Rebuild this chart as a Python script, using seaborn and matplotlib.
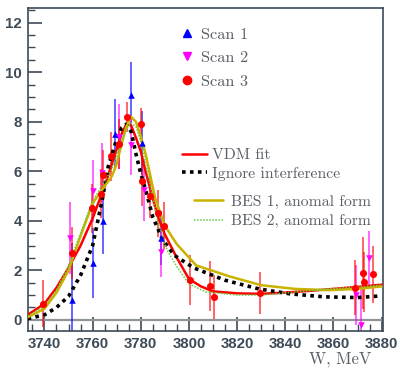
import numpy as np
import pandas as pd
import matplotlib
matplotlib.use("Agg")
import matplotlib.pyplot as plt
from matplotlib.lines import Line2D
from matplotlib.ticker import MultipleLocator
import seaborn as sns

# ---------------- data ----------------
scan1_W = [3751.3, 3760.0, 3764.3, 3769.4, 3775.9, 3780.4, 3788.2]
scan1_v = [0.8, 2.3, 4.0, 7.5, 9.1, 7.15, 3.3]
scan1_e = [2.3, 1.4, 1.35, 1.4, 1.3, 1.3, 1.1]

scan2_W = [3750.6, 3760.0, 3764.0, 3771.0, 3775.9, 3781.2, 3788.2, 3869.5, 3871.3, 3874.7]
scan2_v = [3.3, 5.2, 5.95, 7.4, 7.05, 5.25, 2.75, 1.0, -0.2, 2.5]
scan2_e = [1.45, 1.25, 1.2, 1.3, 1.2, 1.25, 1.0, 1.2, 1.5, 1.1]

scan3_W = [3739.6, 3751.3, 3759.6, 3763.3, 3764.5, 3767.8, 3771.0, 3774.3, 3780.0, 3780.4,
           3784.0, 3787.0, 3789.7, 3800.5, 3808.7, 3810.3, 3829.5, 3869.0, 3872.2, 3872.7, 3876.3]
scan3_v = [0.65, 2.7, 4.5, 5.1, 5.85, 6.6, 7.1, 8.2, 7.9, 5.6,
           5.0, 4.3, 3.8, 1.6, 1.37, 0.93, 1.08, 1.3, 1.9, 1.53, 1.85]
scan3_e = [0.95, 1.05, 1.0, 1.0, 1.0, 1.0, 1.0, 0.6, 0.65, 1.0,
           0.9, 0.95, 0.95, 1.0, 1.0, 0.9, 0.85, 1.1, 1.45, 1.2, 1.15]

vdm_W = [3733, 3740, 3745, 3750, 3755, 3760, 3765, 3768, 3770, 3772, 3774, 3776, 3778, 3780,
         3782, 3784, 3787, 3790, 3795, 3800, 3805, 3810, 3820, 3830, 3840, 3850, 3860, 3870, 3880]
vdm_v = [0.2, 0.65, 1.3, 2.1, 3.0, 4.1, 5.4, 6.3, 6.9, 7.5, 7.9, 7.85, 7.35, 6.8,
         6.0, 5.25, 4.2, 3.45, 2.5, 1.65, 1.35, 1.15, 1.07, 1.05, 1.1, 1.17, 1.25, 1.33, 1.42]

ign_W = [3733, 3740, 3745, 3750, 3755, 3760, 3764, 3766.5, 3770, 3772, 3774, 3776, 3778, 3780,
         3782, 3785, 3789, 3794, 3802, 3815, 3829, 3842, 3856, 3870, 3880]
ign_v = [0.05, 0.2, 0.5, 0.95, 1.8, 3.0, 4.85, 6.2, 7.3, 7.75, 7.9, 7.6, 6.7, 5.9,
         5.25, 4.15, 3.25, 2.6, 2.1, 1.6, 1.25, 1.05, 0.93, 0.9, 0.97]

bes1_W = [3733, 3740, 3745, 3750, 3755, 3760, 3765, 3768, 3770, 3772, 3774, 3776, 3778, 3780,
          3782, 3784, 3786, 3790, 3795, 3803, 3817, 3830, 3844, 3858, 3870, 3880]
bes1_v = [0.1, 0.45, 1.1, 2.0, 3.4, 4.7, 5.4, 5.8, 6.3, 7.1, 7.8, 8.2, 8.0, 7.4,
          6.7, 5.8, 4.9, 3.8, 3.05, 2.2, 1.75, 1.4, 1.25, 1.2, 1.25, 1.35]

bes2_W = [3733, 3740, 3745, 3750, 3755, 3760, 3765, 3768, 3770, 3772, 3774, 3776, 3778, 3780,
          3782, 3784, 3787, 3791, 3795, 3800, 3807, 3820, 3830, 3844, 3858, 3870, 3880]
bes2_v = [0.15, 0.55, 1.2, 2.2, 3.5, 4.8, 5.6, 6.1, 6.6, 7.2, 7.7, 7.95, 7.8, 7.2,
          6.3, 5.4, 4.0, 2.8, 2.15, 1.45, 1.13, 1.0, 1.0, 1.12, 1.25, 1.33, 1.4]

scan_labels = ["Scan 1", "Scan 2", "Scan 3"]
curve_labels = ["VDM fit", "Ignore interference", "BES 1, anomal form", "BES 2, anomal form"]
x_ticks = [3740, 3760, 3780, 3800, 3820, 3840, 3860, 3880]
y_ticks = [0, 2, 4, 6, 8, 10, 12]

# ---------------- style ----------------
sns.set_style("ticks")
plt.rcParams["font.family"] = ["Liberation Sans", "DejaVu Sans"]

FRAME = "#3d4a57"
TXT = "#5a5f66"
SERIF = ["cmr10", "DejaVu Serif"]

fig = plt.figure(figsize=(4.0, 3.74), dpi=100)
ax = fig.add_axes([0.069, 0.115, 0.888, 0.864])

ax.axhline(0, color="#8f9499", lw=1.6, zorder=1)

# curves
curves = [
    (vdm_W, vdm_v, "#ff0000", "-", 1.8),
    (ign_W, ign_v, "#000000", (0, (1, 1.2)), 2.6),
    (bes1_W, bes1_v, "#c9b200", "-", 1.8),
    (bes2_W, bes2_v, "#66cc44", (0, (1, 1)), 1.1),
]
for (w, v, c, ls, lw), lab in zip(curves, curve_labels):
    df = pd.DataFrame({"W": w, "v": v})
    sns.lineplot(data=df, x="W", y="v", color=c, linestyle=ls, lw=lw, ax=ax,
                 sort=False, estimator=None, zorder=3)

# data points
scans = [
    (scan1_W, scan1_v, scan1_e, "#0000ff", "^", 22),
    (scan2_W, scan2_v, scan2_e, "#ff00ff", "v", 22),
    (scan3_W, scan3_v, scan3_e, "#ff0000", "o", 26),
]
for w, v, e, c, m, s in scans:
    ax.errorbar(w, v, yerr=e, fmt="none", ecolor=c, elinewidth=1.3, alpha=0.65, zorder=2)
    df = pd.DataFrame({"W": w, "v": v})
    sns.scatterplot(data=df, x="W", y="v", color=c, marker=m, s=s, linewidth=0,
                    ax=ax, zorder=4)

ax.set_xlim(3733, 3880.5)
ax.set_ylim(-0.45, 12.6)
ax.set_xticks(x_ticks)
ax.set_yticks(y_ticks)
ax.xaxis.set_minor_locator(MultipleLocator(5))
ax.yaxis.set_minor_locator(MultipleLocator(0.5))
ax.tick_params(axis="both", which="major", direction="in", length=10, width=1.2,
               color=FRAME, labelcolor=FRAME, labelsize=10.8, pad=4)
ax.tick_params(axis="both", which="minor", direction="in", length=5, width=1.0, color=FRAME)
for lbl in ax.get_xticklabels() + ax.get_yticklabels():
    lbl.set_fontweight("bold")
for sp in ax.spines.values():
    sp.set_color(FRAME)
    sp.set_linewidth(1.2)
ax.set_xlabel("W, MeV", fontsize=12, color=TXT, family=SERIF)
ax.xaxis.set_label_coords(0.88, -0.065)
ax.set_ylabel("")

# legends
h1 = [Line2D([], [], color=c, marker=m, linestyle="none", markersize=5.5 if m != "o" else 6)
      for _, _, _, c, m, _ in scans]
leg1 = ax.legend(h1, scan_labels, loc="upper left", bbox_to_anchor=(0.39, 0.981),
                 frameon=False, prop={"family": SERIF, "size": 11.8},
                 labelspacing=0.55, handlelength=1.0, handletextpad=0.35,
                 borderpad=0.3, labelcolor=TXT)
ax.add_artist(leg1)
h2 = [Line2D([], [], color=c, linestyle=ls, lw=lw) for _, _, c, ls, lw in curves]
leg2 = ax.legend(h2[:2], curve_labels[:2], loc="upper left", bbox_to_anchor=(0.399, 0.605),
                 frameon=False, prop={"family": SERIF, "size": 11.3},
                 labelspacing=0.3, handlelength=1.6, handletextpad=0.3,
                 borderpad=0.3, labelcolor=TXT)
ax.add_artist(leg2)
ax.legend(h2[2:], curve_labels[2:], loc="upper left", bbox_to_anchor=(0.433, 0.460),
          frameon=False, prop={"family": SERIF, "size": 11.3},
          labelspacing=0.35, handlelength=1.85, handletextpad=0.5,
          borderpad=0.3, labelcolor=TXT)

fig.savefig("out.png", dpi=100)
